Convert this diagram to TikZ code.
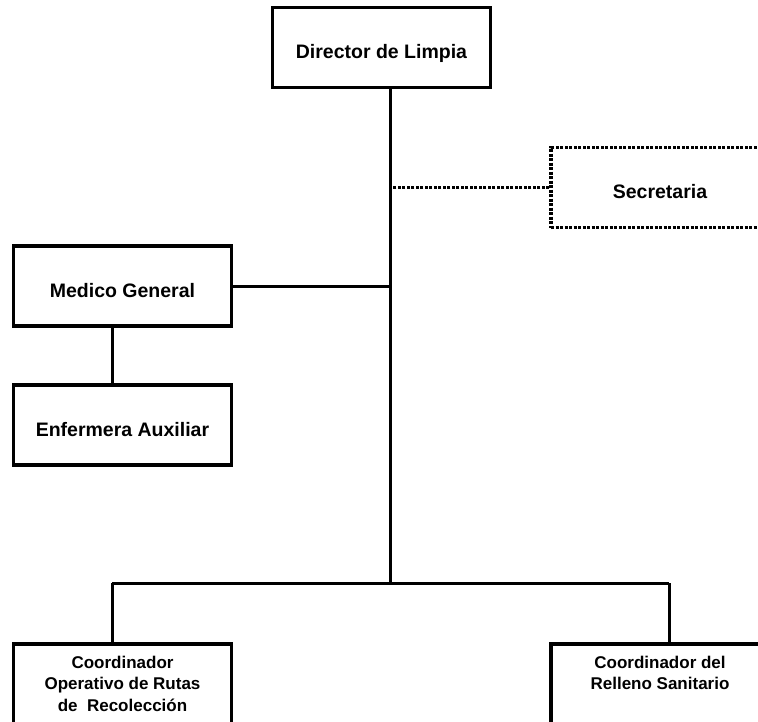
\documentclass[tikz,border=0pt]{standalone}
\usepackage{fontspec}
\setmainfont{Liberation Sans}
\begin{document}
\begin{tikzpicture}
	[x=1pt,y=-1pt,
	 caja/.style={draw,line width=3.5pt,minimum width=218pt,minimum height=80pt,inner sep=0pt,align=center,text height=22pt,text depth=0pt,font=\bfseries\fontsize{19.5}{23}\selectfont},
	 cajabaja/.style={caja,text height=,text depth=,font=\bfseries\fontsize{17}{21.5}\selectfont},
	 texto/.style={inner sep=0pt,align=center,font=\bfseries\fontsize{17}{21.5}\selectfont},
	 linea/.style={line width=3pt},
	 punteada/.style={line width=3pt,dash pattern=on 3pt off 1.5pt}]

	\useasboundingbox (0,0) rectangle (758,721);
	\clip (0,0) rectangle (758,721);

	% cajas
	\node[caja] (dir) at (381.5,47.5) {Director de Limpia};
	\node[caja,dash pattern=on 3pt off 1.5pt] (sec) at (660,187.5) {Secretaria};
	\node[caja] (med) at (122.5,286) {Medico General};
	\node[caja] (enf) at (122.5,425) {Enfermera Auxiliar};
	\node[cajabaja] (coorA) at (122.5,683.75) {Coordinador\\Operativo de Rutas\\de~ Recolección};
	\node[cajabaja] (coorB) at (660,683.75) {};
	\node[texto] (coorBt) at (660,673) {Coordinador del\\Relleno Sanitario};

	% puntos de enlace
	\coordinate (lomo) at (390,583);
	\coordinate (izq) at (112,583);
	\coordinate (der) at (669,583);

	\draw[linea] (dir.south -| lomo) -- (lomo);
	\draw[punteada] (sec.west) -- (sec.west -| lomo);
	\draw[linea] (med.east) -- (med.east -| lomo);
	\draw[linea] (med.south -| izq) -- (enf.north -| izq);
	\draw[linea] (izq) -- (der);
	\draw[linea] (izq) -- (coorA.north -| izq);
	\draw[linea] (der) -- (coorB.north -| der);

\end{tikzpicture}
\end{document}
